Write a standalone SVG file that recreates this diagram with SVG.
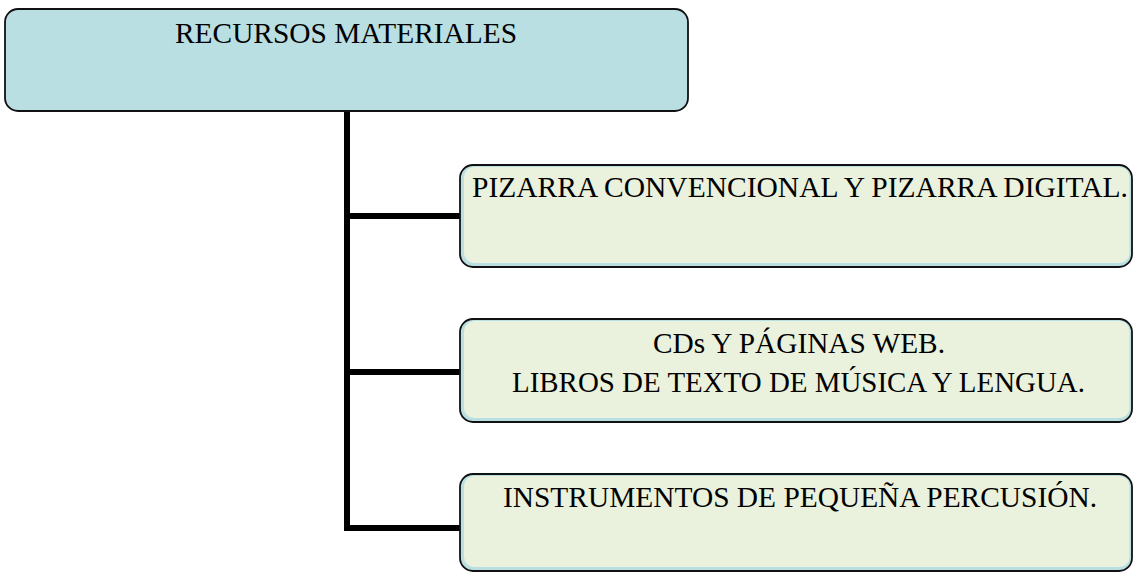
<svg xmlns="http://www.w3.org/2000/svg" width="1135" height="572" viewBox="0 0 1135 572">
<style>
.txt{font-family:"Liberation Serif","Times New Roman",serif;font-size:29.5px;fill:#000;text-anchor:middle}
.outer{fill:#B9DFE2;stroke:#111;stroke-width:1.8}
.inner{fill:#EAF1DD}
.conn{stroke:#000;stroke-width:6;fill:none}
</style>
<rect width="1135" height="572" fill="#fff"/>
<g id="connectors">
<path class="conn" d="M347 112 V528 H461" stroke-linejoin="miter"/>
<path class="conn" d="M347 216 H461"/>
<path class="conn" d="M347 372 H461"/>
</g>
<g id="root">
<rect class="outer" x="5" y="9" width="683" height="102" rx="13"/>
<text class="txt" x="346" y="43" textLength="342" lengthAdjust="spacingAndGlyphs">RECURSOS MATERIALES</text>
</g>
<g id="n1">
<rect class="outer" x="460" y="165" width="672" height="102" rx="13"/>
<rect class="inner" x="464" y="167" width="665.5" height="96" rx="10"/>
<text class="txt" x="800" y="197" textLength="656" lengthAdjust="spacingAndGlyphs">PIZARRA CONVENCIONAL Y PIZARRA DIGITAL.</text>
</g>
<g id="n2">
<rect class="outer" x="460" y="319" width="672" height="103" rx="13"/>
<rect class="inner" x="464" y="321" width="665.5" height="97" rx="10"/>
<text class="txt" x="799" y="353" textLength="292" lengthAdjust="spacingAndGlyphs">CDs Y PÁGINAS WEB.</text>
<text class="txt" x="798.5" y="392" textLength="573" lengthAdjust="spacingAndGlyphs">LIBROS DE TEXTO DE MÚSICA Y LENGUA.</text>
</g>
<g id="n3">
<rect class="outer" x="460" y="474" width="672" height="97" rx="13"/>
<rect class="inner" x="464" y="476" width="665.5" height="91" rx="10"/>
<text class="txt" x="800" y="507" textLength="594" lengthAdjust="spacingAndGlyphs">INSTRUMENTOS DE PEQUEÑA PERCUSIÓN.</text>
</g>
</svg>
